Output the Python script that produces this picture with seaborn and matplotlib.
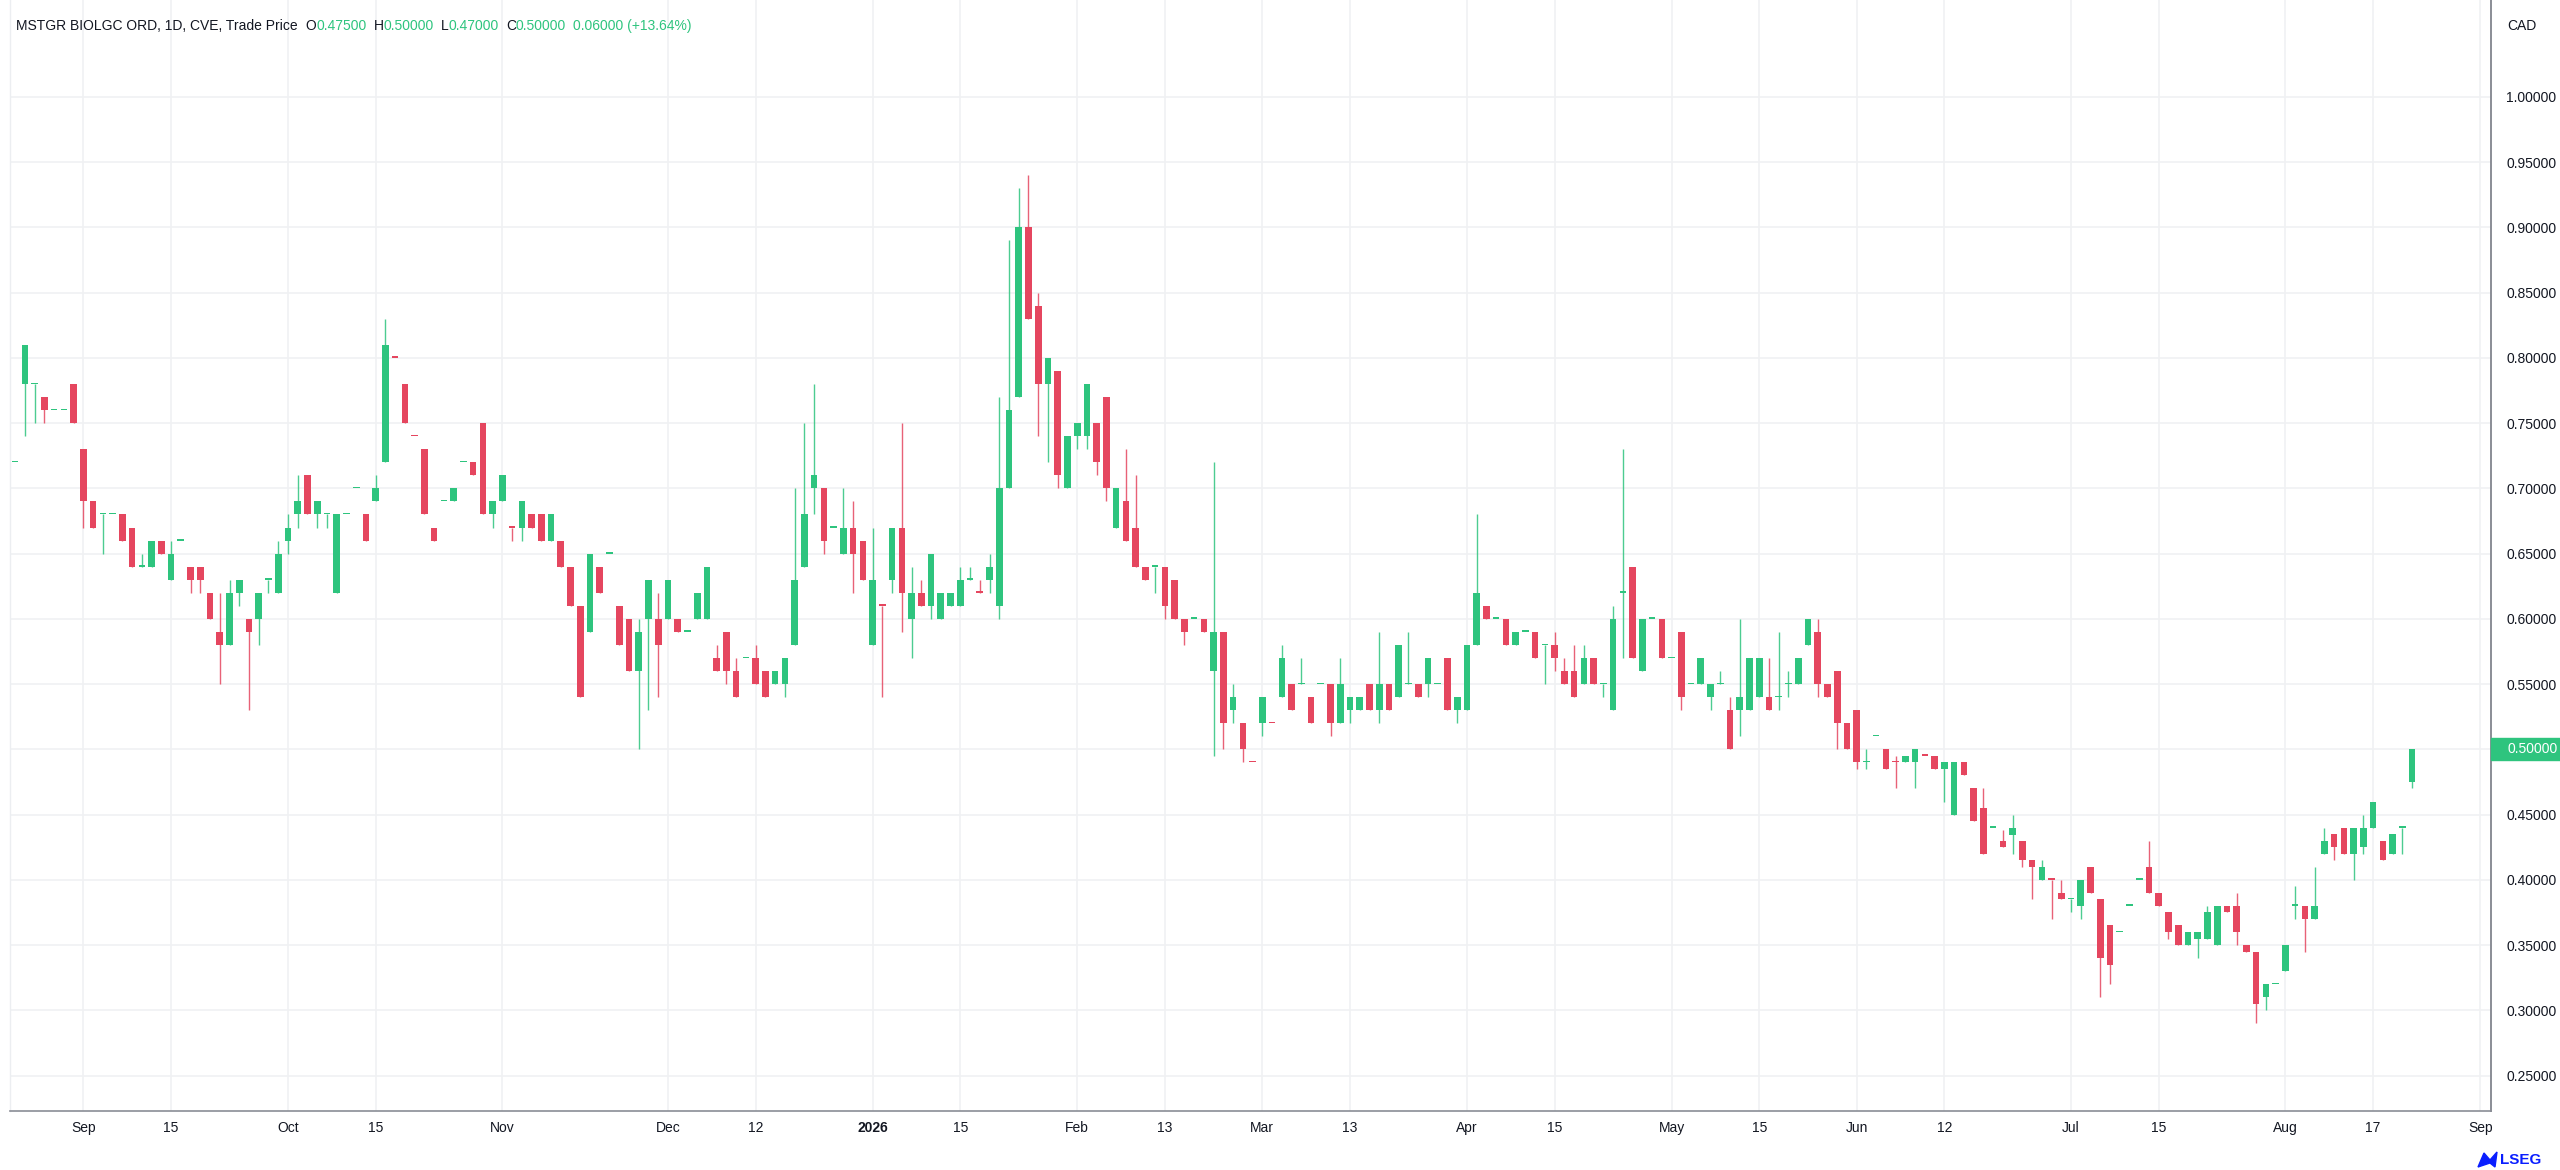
import matplotlib
matplotlib.use("Agg")
import matplotlib.pyplot as plt
import matplotlib.transforms as mtransforms
from matplotlib.patches import Rectangle, Polygon
import numpy as np
import pandas as pd
import seaborn as sns

# ---------------- data ----------------
opens = [
    .72, .78, .78, .77, .76, .76, .78, .73, .69, .68,
    .68, .68, .67, .64, .64, .66, .63, .66, .64, .64,
    .62, .59, .58, .62, .60, .60, .63, .62, .66, .68,
    .71, .68, .68, .62, .68, .70, .68, .69, .72, .80,
    .78, .74, .73, .67, .69, .69, .72, .72, .75, .68,
    .69, .67, .67, .68, .68, .66, .66, .64, .61, .59,
    .64, .65, .61, .60, .56, .60, .60, .60, .60, .59,
    .60, .60, .57, .59, .56, .57, .57, .56, .55, .55,
    .58, .64, .70, .70, .67, .65, .67, .66, .58, .61,
    .63, .67, .60, .62, .61, .60, .61, .61, .63, .62,
    .63, .61, .70, .77, .90, .84, .78, .79, .70, .74,
    .74, .75, .77, .67, .69, .67, .64, .64, .64, .63,
    .60, .60, .60, .56, .59, .53, .52, .49, .52, .52,
    .54, .55, .55, .54, .55, .55, .52, .53, .53, .55,
    .53, .55, .54, .55, .55, .55, .55, .57, .53, .53,
    .58, .61, .60, .60, .58, .59, .59, .58, .58, .56,
    .56, .55, .57, .55, .53, .62, .64, .56, .60, .60,
    .57, .59, .55, .55, .54, .55, .53, .53, .53, .54,
    .54, .54, .55, .55, .58, .59, .55, .56, .52, .53,
    .49, .51, .50, .49, .49, .49, .495, .495, .485, .45,
    .49, .47, .455, .44, .43, .434, .43, .415, .40, .40,
    .39, .385, .38, .41, .385, .365, .36, .38, .40, .41,
    .39, .375, .365, .35, .355, .355, .35, .38, .38, .35,
    .345, .31, .32, .33, .38, .38, .37, .42, .435, .44,
    .42, .425, .44, .43, .42, .44, .475,
]
highs = [
    .72, .81, .78, .77, .76, .76, .78, .73, .69, .68,
    .68, .68, .67, .65, .66, .66, .66, .66, .64, .64,
    .62, .62, .63, .63, .60, .62, .63, .66, .68, .71,
    .71, .69, .68, .68, .68, .70, .68, .71, .83, .80,
    .78, .74, .73, .67, .69, .70, .72, .72, .75, .69,
    .71, .67, .69, .68, .68, .68, .66, .64, .61, .65,
    .64, .65, .61, .60, .60, .63, .62, .63, .60, .59,
    .62, .64, .58, .59, .57, .57, .58, .56, .56, .57,
    .70, .75, .78, .70, .67, .70, .69, .66, .67, .61,
    .67, .75, .64, .63, .65, .62, .62, .64, .64, .63,
    .65, .77, .89, .93, .94, .85, .80, .79, .74, .75,
    .78, .75, .77, .70, .73, .71, .64, .64, .64, .63,
    .60, .60, .60, .72, .59, .55, .52, .49, .54, .52,
    .58, .55, .57, .54, .55, .55, .57, .54, .54, .55,
    .59, .55, .58, .59, .55, .57, .55, .57, .54, .58,
    .68, .61, .60, .60, .59, .59, .59, .58, .59, .57,
    .58, .58, .57, .55, .61, .73, .64, .60, .60, .60,
    .57, .59, .55, .57, .55, .56, .54, .60, .57, .57,
    .57, .59, .56, .57, .60, .60, .55, .56, .52, .53,
    .50, .51, .50, .495, .495, .50, .495, .495, .49, .49,
    .49, .47, .47, .44, .438, .45, .43, .415, .415, .40,
    .40, .385, .40, .41, .385, .365, .36, .38, .40, .43,
    .39, .375, .365, .36, .36, .38, .38, .38, .39, .35,
    .345, .32, .32, .35, .395, .38, .41, .44, .435, .44,
    .44, .45, .46, .43, .435, .44, .50,
]
lows = [
    .72, .74, .75, .75, .76, .76, .75, .67, .67, .65,
    .68, .66, .64, .64, .64, .65, .63, .66, .62, .62,
    .60, .55, .58, .61, .53, .58, .62, .62, .65, .67,
    .68, .67, .67, .62, .68, .70, .66, .69, .72, .80,
    .75, .74, .68, .66, .69, .69, .72, .71, .68, .67,
    .69, .66, .66, .67, .66, .66, .64, .61, .54, .59,
    .62, .65, .58, .56, .50, .53, .54, .60, .59, .59,
    .60, .60, .56, .55, .54, .57, .55, .54, .55, .54,
    .58, .64, .68, .65, .67, .65, .62, .63, .58, .54,
    .62, .59, .57, .61, .60, .60, .61, .61, .63, .62,
    .62, .60, .70, .77, .83, .74, .72, .70, .70, .73,
    .73, .71, .69, .67, .66, .64, .63, .62, .60, .60,
    .58, .60, .59, .495, .50, .52, .49, .49, .51, .52,
    .54, .53, .55, .52, .55, .51, .52, .52, .53, .53,
    .52, .53, .54, .55, .54, .54, .55, .53, .52, .53,
    .58, .60, .60, .58, .58, .59, .57, .55, .56, .55,
    .54, .55, .55, .54, .53, .57, .57, .56, .60, .57,
    .57, .53, .55, .55, .53, .55, .50, .51, .53, .54,
    .53, .53, .54, .55, .58, .54, .54, .50, .50, .485,
    .485, .51, .485, .47, .49, .47, .495, .485, .46, .45,
    .48, .445, .42, .44, .425, .42, .41, .385, .40, .37,
    .385, .375, .37, .39, .31, .32, .36, .38, .40, .39,
    .38, .355, .35, .35, .34, .355, .35, .375, .35, .345,
    .29, .30, .32, .33, .37, .345, .37, .42, .415, .42,
    .40, .42, .44, .415, .42, .42, .47,
]
closes = [
    .72, .81, .78, .76, .76, .76, .75, .69, .67, .68,
    .68, .66, .64, .64, .66, .65, .65, .66, .63, .63,
    .60, .58, .62, .63, .59, .62, .63, .65, .67, .69,
    .68, .69, .68, .68, .68, .70, .66, .70, .81, .80,
    .75, .74, .68, .66, .69, .70, .72, .71, .68, .69,
    .71, .67, .69, .67, .66, .68, .64, .61, .54, .65,
    .62, .65, .58, .56, .59, .63, .58, .63, .59, .59,
    .62, .64, .56, .56, .54, .57, .55, .54, .56, .57,
    .63, .68, .71, .66, .67, .67, .65, .63, .63, .61,
    .67, .62, .62, .61, .65, .62, .62, .63, .63, .62,
    .64, .70, .76, .90, .83, .78, .80, .71, .74, .75,
    .78, .72, .70, .70, .66, .64, .63, .64, .61, .60,
    .59, .60, .59, .59, .52, .54, .50, .49, .54, .52,
    .57, .53, .55, .52, .55, .52, .55, .54, .54, .53,
    .55, .53, .58, .55, .54, .57, .55, .53, .54, .58,
    .62, .60, .60, .58, .59, .59, .57, .58, .57, .55,
    .54, .57, .55, .55, .60, .62, .57, .60, .60, .57,
    .57, .54, .55, .57, .55, .55, .50, .54, .57, .57,
    .53, .54, .55, .57, .60, .55, .54, .52, .50, .49,
    .49, .51, .485, .49, .495, .50, .495, .485, .49, .49,
    .48, .445, .42, .44, .425, .44, .415, .41, .41, .40,
    .385, .385, .40, .39, .34, .335, .36, .38, .40, .39,
    .38, .36, .35, .36, .36, .375, .38, .375, .36, .345,
    .305, .32, .32, .35, .38, .37, .38, .43, .425, .42,
    .44, .44, .46, .415, .435, .44, .50,
]
# bars whose open equals close but are drawn in the "down" colour
doji_down = [39, 41, 51, 89, 99, 127, 129, 193, 196, 209]

tick_pos = [7, 16, 28, 37, 50, 67, 76, 88, 97, 109, 118, 128, 137, 149,
            158, 170, 179, 189, 198, 211, 220, 233, 242, 253]
tick_labels = ["Sep", "15", "Oct", "15", "Nov", "Dec", "12", "2026", "15", "Feb",
               "13", "Mar", "13", "Apr", "15", "May", "15", "Jun", "12", "Jul",
               "15", "Aug", "17", "Sep"]
price_ticks = [0.25, 0.30, 0.35, 0.40, 0.45, 0.50, 0.55, 0.60, 0.65, 0.70,
               0.75, 0.80, 0.85, 0.90, 0.95, 1.00]

title = "MSTGR BIOLGC ORD, 1D, CVE, Trade Price"
ohlc_header = [("O", "0.47500"), ("H", "0.50000"), ("L", "0.47000"), ("C", "0.50000")]
change_text = "0.06000 (+13.64%)"
last_price = 0.50

# ---------------- styling ----------------
GREEN = "#2ec47e"
RED = "#e5465f"
DARK = "#131722"
GRID = "#f0f1f3"

sns.set_theme(style="white")
plt.rcParams["font.family"] = ["Liberation Sans", "DejaVu Sans"]

df = pd.DataFrame({"o": opens, "h": highs, "l": lows, "c": closes})
df["i"] = np.arange(len(df))
up = df["c"] > df["o"]
eq = df["c"] == df["o"]
df["up"] = up | (eq & ~df["i"].isin(doji_down))
df["color"] = np.where(df["up"], GREEN, RED)
df["bottom"] = df[["o", "c"]].min(axis=1)
df["height"] = (df["o"] - df["c"]).abs().clip(lower=0.0011)

W, H = 2560, 1170
fig = plt.figure(figsize=(W / 100, H / 100), dpi=100)
fig.patch.set_facecolor("white")
ax_left, ax_right = 10, 2491
ax_top, ax_bottom = 0, 1111
ax = fig.add_axes([ax_left / W, (H - ax_bottom) / H,
                   (ax_right - ax_left) / W, (ax_bottom - ax_top) / H])
ax.set_facecolor("white")

# grid
for p in price_ticks:
    ax.axhline(p, color=GRID, lw=1.2, zorder=0)
for t in tick_pos:
    ax.axvline(t, color=GRID, lw=1.2, zorder=0)

# wicks and bodies
ax.vlines(df["i"], df["l"], df["h"], colors=df["color"], lw=1.0, alpha=0.85, zorder=2)
ax.bar(df["i"], df["height"], bottom=df["bottom"], width=0.68,
       color=df["color"], linewidth=0, zorder=3)

ax.set_xlim(-0.53, 254.1)
ax.set_ylim(0.2228, 1.0743)

ax.yaxis.tick_right()
ax.set_yticks(price_ticks)
ax.set_yticklabels([f"{p:.5f}" for p in price_ticks])
ax.set_xticks(tick_pos)
ax.set_xticklabels(tick_labels)
ax.tick_params(axis="y", length=0, pad=11, labelsize=10, labelcolor=DARK)
ax.tick_params(axis="x", length=0, pad=7, labelsize=10, labelcolor=DARK)
for lab in ax.get_xticklabels():
    if lab.get_text() == "2026":
        lab.set_fontweight("bold")
for lab in ax.get_yticklabels():
    lab.set_horizontalalignment("left")

for side in ["top"]:
    ax.spines[side].set_visible(False)
ax.spines["left"].set_color("#eceef1")
ax.spines["left"].set_linewidth(1.0)
ax.spines["right"].set_color("#8a8d96")
ax.spines["right"].set_linewidth(1.4)
ax.spines["bottom"].set_color("#8a8d96")
ax.spines["bottom"].set_linewidth(1.2)

# last price label
blend = mtransforms.blended_transform_factory(ax.transAxes, ax.transData)
box_h = 22 / 1111 * (1.0743 - 0.2228)
ax.add_patch(Rectangle((1.0, last_price - box_h / 2), (W - ax_right) / (ax_right - ax_left),
                       box_h, transform=blend, clip_on=False, color=GREEN, zorder=5))
ax.text(1.0 + 16 / (ax_right - ax_left), last_price, f"{last_price:.5f}", transform=blend,
        ha="left", va="center", color="white", fontsize=10, zorder=6, clip_on=False)

# header text, laid out sequentially
fig.canvas.draw()
renderer = fig.canvas.get_renderer()
y_head = (H - 26) / H
x_cur = 16


def put(txt, color, gap):
    global x_cur
    t = fig.text(x_cur / W, y_head, txt, color=color, fontsize=10, ha="left", va="center")
    bb = t.get_window_extent(renderer=renderer)
    x_cur = bb.x1 + gap
    return t


put(title, DARK, 8)
for letter, val in ohlc_header:
    put(letter, DARK, 0)
    put(val, GREEN, 7)
put(change_text, GREEN, 0)

fig.text(2507 / W, y_head, "CAD", color=DARK, fontsize=10, ha="left", va="center")

# LSEG mark
fig.text(2500 / W, (H - 1160) / H, "LSEG", color="#0a1eff", fontsize=11,
         fontweight="bold", ha="left", va="center")
logo = Polygon([[2478, H - 1167], [2484, H - 1153], [2490, H - 1160], [2497, H - 1152],
                [2495, H - 1167], [2490, H - 1163]], closed=True,
               transform=None, color="#0a1eff")
fig.patches.append(logo)

fig.savefig("out.png", dpi=100, facecolor="white")
